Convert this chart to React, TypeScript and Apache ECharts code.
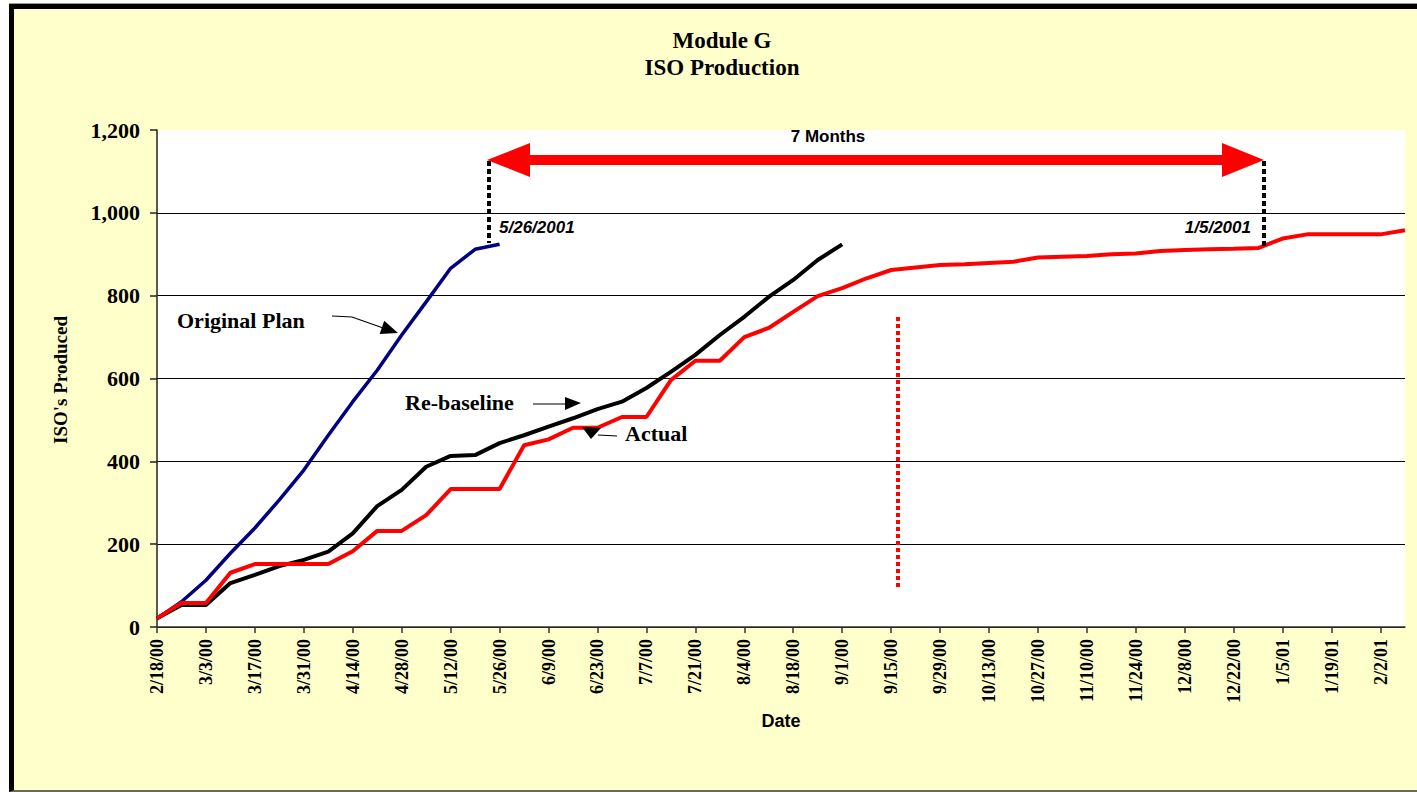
import React, { useEffect, useRef } from "react";
import * as echarts from "echarts";

const dates = [
  "2/18/00", "2/25/00", "3/3/00", "3/10/00", "3/17/00", "3/24/00", "3/31/00", "4/7/00",
  "4/14/00", "4/21/00", "4/28/00", "5/5/00", "5/12/00", "5/19/00", "5/26/00", "6/2/00",
  "6/9/00", "6/16/00", "6/23/00", "6/30/00", "7/7/00", "7/14/00", "7/21/00", "7/28/00",
  "8/4/00", "8/11/00", "8/18/00", "8/25/00", "9/1/00", "9/8/00", "9/15/00", "9/22/00",
  "9/29/00", "10/6/00", "10/13/00", "10/20/00", "10/27/00", "11/3/00", "11/10/00", "11/17/00",
  "11/24/00", "12/1/00", "12/8/00", "12/15/00", "12/22/00", "12/29/00", "1/5/01", "1/12/01",
  "1/19/01", "1/26/01", "2/2/01", "2/9/01",
];

const originalPlan = [20, 61, 113, 178, 239, 307, 379, 463, 544, 620, 705, 785, 866, 912, 924];

const reBaseline = [
  21, 53, 53, 106, 126, 147, 162, 182, 226, 292, 331, 387, 413, 415, 444, 463, 484, 504, 526,
  544, 577, 616, 657, 705, 749, 797, 838, 886, 924,
];

const actual = [
  21, 58, 58, 131, 152, 152, 152, 152, 183, 232, 232, 270, 333, 333, 333, 439, 453, 481, 481,
  507, 507, 596, 643, 643, 700, 722, 761, 799, 818, 842, 862, 868, 874, 876, 879, 882, 892, 894,
  896, 900, 902, 908, 910, 912, 913, 915, 938, 948, 948, 948, 948, 958,
];

const yMin = 0;
const yMax = 1200;
const yStep = 200;

const SERIF = "'Liberation Serif', 'Times New Roman', serif";
const SANS = "'Liberation Sans', Arial, sans-serif";

function arrowHead(tipX: number, tipY: number, fromX: number, fromY: number, len: number, half: number) {
  const dx = tipX - fromX;
  const dy = tipY - fromY;
  const d = Math.sqrt(dx * dx + dy * dy);
  const ux = dx / d;
  const uy = dy / d;
  const bx = tipX - ux * len;
  const by = tipY - uy * len;
  return [
    [tipX, tipY],
    [bx - uy * half, by + ux * half],
    [bx + uy * half, by - ux * half],
  ];
}

export default function App() {
  const ref = useRef<HTMLDivElement>(null);

  useEffect(() => {
    if (!ref.current) return;
    const chart = echarts.init(ref.current, null, { renderer: "svg" });

    const boldSerif = (size: number) => ({ fontFamily: SERIF, fontWeight: "bold", fontSize: size, fill: "#000" });
    const boldSans = (size: number) => ({ fontFamily: SANS, fontWeight: "bold", fontSize: size, fill: "#000" });

    chart.setOption({
      animation: false,
      backgroundColor: "transparent",
      grid: {
        left: 157,
        right: 12,
        top: 130,
        bottom: 165,
        show: true,
        backgroundColor: "#ffffff",
        borderWidth: 0,
        containLabel: false,
      },
      xAxis: {
        type: "category",
        data: dates,
        boundaryGap: false,
        axisLine: { show: true, lineStyle: { color: "#333", width: 1.5 } },
        axisTick: { show: true, interval: 1, length: 6, lineStyle: { color: "#333", width: 1.5 } },
        axisLabel: {
          interval: 1,
          rotate: 90,
          margin: 12,
          fontFamily: SERIF,
          fontWeight: "bold",
          fontSize: 18,
          color: "#000",
        },
        splitLine: { show: false },
      },
      yAxis: {
        type: "value",
        min: yMin,
        max: yMax,
        interval: yStep,
        axisLine: { show: true, lineStyle: { color: "#222", width: 1.5 } },
        axisTick: { show: true, length: 7, lineStyle: { color: "#222", width: 1.5 } },
        axisLabel: {
          margin: 17,
          fontFamily: SERIF,
          fontWeight: "bold",
          fontSize: 22,
          color: "#000",
          formatter: (v: number) => v.toLocaleString("en-US"),
        },
        splitLine: {
          show: true,
          lineStyle: {
            color: ["#000", "#000", "#000", "#000", "#000", "#000", "rgba(0,0,0,0)"],
            width: 1,
          },
        },
      },
      series: [
        {
          name: "Re-baseline",
          type: "line",
          data: reBaseline,
          symbol: "none",
          lineStyle: { color: "#000000", width: 4 },
          z: 3,
        },
        {
          name: "Original Plan",
          type: "line",
          data: originalPlan,
          symbol: "none",
          lineStyle: { color: "#000080", width: 3.5 },
          z: 4,
        },
        {
          name: "Actual",
          type: "line",
          data: actual,
          symbol: "none",
          lineStyle: { color: "#ff0000", width: 4 },
          z: 5,
        },
      ],
      graphic: [
        { type: "text", x: 722, y: 40, style: { ...boldSerif(23), text: "Module G", textAlign: "center", textVerticalAlign: "middle" } },
        { type: "text", x: 722, y: 67, style: { ...boldSerif(23), text: "ISO Production", textAlign: "center", textVerticalAlign: "middle" } },
        {
          type: "text",
          x: 60,
          y: 380,
          rotation: Math.PI / 2,
          style: { ...boldSerif(19), text: "ISO's Produced", textAlign: "center", textVerticalAlign: "middle" },
        },
        { type: "text", x: 781, y: 721, style: { ...boldSans(18), text: "Date", textAlign: "center", textVerticalAlign: "middle" } },
        { type: "text", x: 828, y: 136, style: { ...boldSans(17), text: "7 Months", textAlign: "center", textVerticalAlign: "middle" } },
        {
          type: "polygon",
          z: 10,
          shape: {
            points: [
              [487, 160], [530, 143], [530, 155], [1222, 155], [1222, 143], [1264, 160],
              [1222, 177], [1222, 165], [530, 165], [530, 177],
            ],
          },
          style: { fill: "#ff0000" },
        },
        {
          type: "line",
          z: 10,
          shape: { x1: 489, y1: 161, x2: 489, y2: 243 },
          style: { stroke: "#000", lineWidth: 4, lineDash: [5, 3] },
        },
        {
          type: "line",
          z: 10,
          shape: { x1: 1264, y1: 161, x2: 1264, y2: 248 },
          style: { stroke: "#000", lineWidth: 4, lineDash: [5, 3] },
        },
        {
          type: "line",
          z: 10,
          shape: { x1: 898, y1: 317, x2: 898, y2: 589 },
          style: { stroke: "#ff0000", lineWidth: 4, lineDash: [4, 3] },
        },
        {
          type: "text",
          z: 10,
          x: 499,
          y: 227,
          style: { ...boldSans(17), fontStyle: "italic", text: "5/26/2001", textAlign: "left", textVerticalAlign: "middle" },
        },
        {
          type: "text",
          z: 10,
          x: 1251,
          y: 227,
          style: { ...boldSans(17), fontStyle: "italic", text: "1/5/2001", textAlign: "right", textVerticalAlign: "middle" },
        },
        { type: "text", z: 10, x: 177, y: 320, style: { ...boldSerif(22), text: "Original Plan", textAlign: "left", textVerticalAlign: "middle" } },
        {
          type: "polyline",
          z: 10,
          shape: { points: [[332, 316], [352, 317], [386, 329]] },
          style: { stroke: "#000", lineWidth: 1.2, fill: null },
        },
        { type: "polygon", z: 10, shape: { points: arrowHead(398, 333, 352, 317, 17, 7) }, style: { fill: "#000" } },
        { type: "text", z: 10, x: 405, y: 402, style: { ...boldSerif(22), text: "Re-baseline", textAlign: "left", textVerticalAlign: "middle" } },
        {
          type: "line",
          z: 10,
          shape: { x1: 533, y1: 404, x2: 567, y2: 404 },
          style: { stroke: "#000", lineWidth: 1.2 },
        },
        { type: "polygon", z: 10, shape: { points: [[581, 403], [565, 397], [565, 410]] }, style: { fill: "#000" } },
        { type: "text", z: 10, x: 625, y: 433, style: { ...boldSerif(22), text: "Actual", textAlign: "left", textVerticalAlign: "middle" } },
        {
          type: "line",
          z: 10,
          shape: { x1: 617, y1: 436, x2: 598, y2: 435 },
          style: { stroke: "#000", lineWidth: 1.2 },
        },
        { type: "polygon", z: 10, shape: { points: [[582, 427], [601, 428], [591, 439]] }, style: { fill: "#000" } },
      ],
    });

    return () => {
      chart.dispose();
    };
  }, []);

  return (
    <div style={{ position: "fixed", left: 0, top: 0, width: 1417, height: 792, background: "#ffffff", overflow: "hidden" }}>
      <div
        style={{
          position: "absolute",
          left: 9,
          top: 3,
          width: 1408,
          height: 789,
          boxSizing: "border-box",
          background: "#FFFFCC",
          borderTop: "1px solid #9a9a9a",
        }}
      >
        <div
          style={{
            position: "absolute",
            left: 0,
            top: 0,
            right: 0,
            bottom: 0,
            boxSizing: "border-box",
            borderTop: "5px solid #000",
            borderLeft: "5px solid #000",
            borderBottom: "2px solid #6b6b55",
          }}
        />
      </div>
      <div ref={ref} style={{ position: "absolute", left: 0, top: 0, width: 1417, height: 792 }} />
    </div>
  );
}
